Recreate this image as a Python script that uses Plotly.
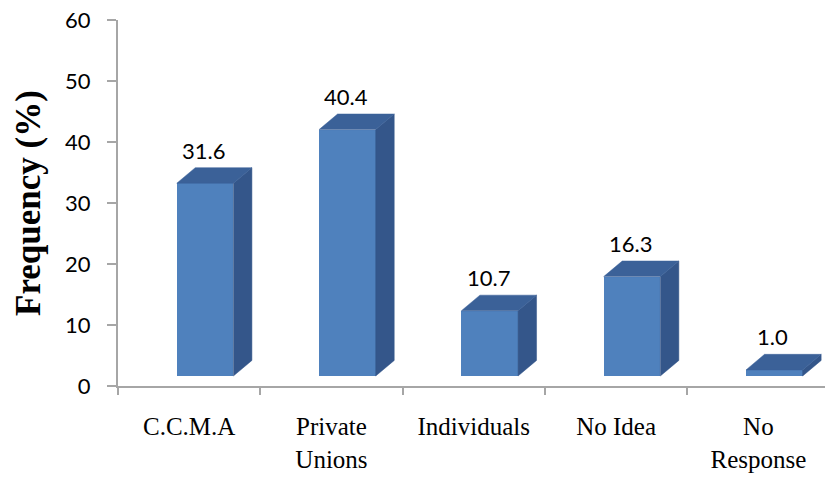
import plotly.graph_objects as go

# Survey responses: who handles the disputes
categories = ["C.C.M.A", "Private<br>Unions", "Individuals", "No Idea", "No<br>Response"]
frequency = [31.6, 40.4, 10.7, 16.3, 1.0]
y_ticks = [0, 10, 20, 30, 40, 50, 60]

# Pseudo-3D column geometry (category units / value units)
BAR_LEFT = -0.087      # left edge of the front face relative to category centre
BAR_W = 0.398          # front face width
DEPTH_X = 0.13         # receding offset to the right
DEPTH_Y = 2.55         # receding offset upward
FLOOR = 1.64           # front faces stand slightly in front of the back wall

FRONT = "#4f81bd"
TOP = "#3b6198"
SIDE = "#34568a"

xs = list(range(len(categories)))

fig = go.Figure()

# front faces
fig.add_trace(go.Bar(
    x=xs, y=frequency, base=FLOOR, width=BAR_W, offset=BAR_LEFT,
    marker=dict(color=FRONT, line=dict(width=0)),
    hoverinfo="skip", showlegend=False,
))

# top and side faces built from each column's value
top_x, top_y, side_x, side_y = [], [], [], []
for x, v in zip(xs, frequency):
    x0 = x + BAR_LEFT
    x1 = x0 + BAR_W
    h = FLOOR + v
    top_x += [x0, x1, x1 + DEPTH_X, x0 + DEPTH_X, x0, None]
    top_y += [h, h, h + DEPTH_Y, h + DEPTH_Y, h, None]
    side_x += [x1, x1 + DEPTH_X, x1 + DEPTH_X, x1, x1, None]
    side_y += [FLOOR, FLOOR + DEPTH_Y, h + DEPTH_Y, h, FLOOR, None]

fig.add_trace(go.Scatter(
    x=side_x, y=side_y, mode="lines", fill="toself", fillcolor=SIDE,
    line=dict(color=SIDE, width=0.5), hoverinfo="skip", showlegend=False,
))
fig.add_trace(go.Scatter(
    x=top_x, y=top_y, mode="lines", fill="toself", fillcolor=TOP,
    line=dict(color=TOP, width=0.5), hoverinfo="skip", showlegend=False,
))

# value labels above each column
for x, v in zip(xs, frequency):
    fig.add_annotation(
        x=x + 0.1, y=FLOOR + v + DEPTH_Y, text=f"{v:.1f}",
        showarrow=False, xanchor="center", yanchor="bottom", yshift=2,
        font=dict(family="Lato", size=22, color="#000000"),
    )

# rotated axis title
fig.add_annotation(
    xref="paper", yref="paper", x=0, y=0.5, xshift=-90,
    text="<b>Frequency (%)</b>", textangle=-90, showarrow=False,
    xanchor="center", yanchor="middle",
    font=dict(family="Liberation Serif", size=35, color="#000000"),
)

AXIS_GREY = "#a6a6a6"

fig.update_xaxes(
    type="linear", range=[-0.5, 4.468], automargin=False,
    tickmode="array", tickvals=xs, ticktext=categories,
    ticks="outside", ticklen=17, tickcolor="rgba(0,0,0,0)",
    tickfont=dict(family="Liberation Serif", size=25, color="#000000"),
    minor=dict(tickmode="array", tickvals=[-0.5, 0.5, 1.5, 2.5, 3.5],
               ticks="outside", ticklen=7, tickcolor=AXIS_GREY, tickwidth=2),
    showline=True, linecolor=AXIS_GREY, linewidth=2,
    showgrid=False, zeroline=False, fixedrange=True,
)
fig.update_yaxes(
    range=[0, 60], tickmode="array", tickvals=y_ticks, automargin=False,
    ticks="outside", ticklen=9, tickcolor=AXIS_GREY, tickwidth=2,
    ticklabelstandoff=12,
    tickfont=dict(family="Lato", size=22, color="#000000"),
    showline=True, linecolor=AXIS_GREY, linewidth=2,
    showgrid=False, zeroline=False, fixedrange=True,
)

fig.update_layout(
    width=825, height=477,
    margin=dict(l=118, r=0, t=20, b=91),
    paper_bgcolor="#ffffff", plot_bgcolor="#ffffff",
    bargap=0, showlegend=False,
)

fig.write_html("out.html")
